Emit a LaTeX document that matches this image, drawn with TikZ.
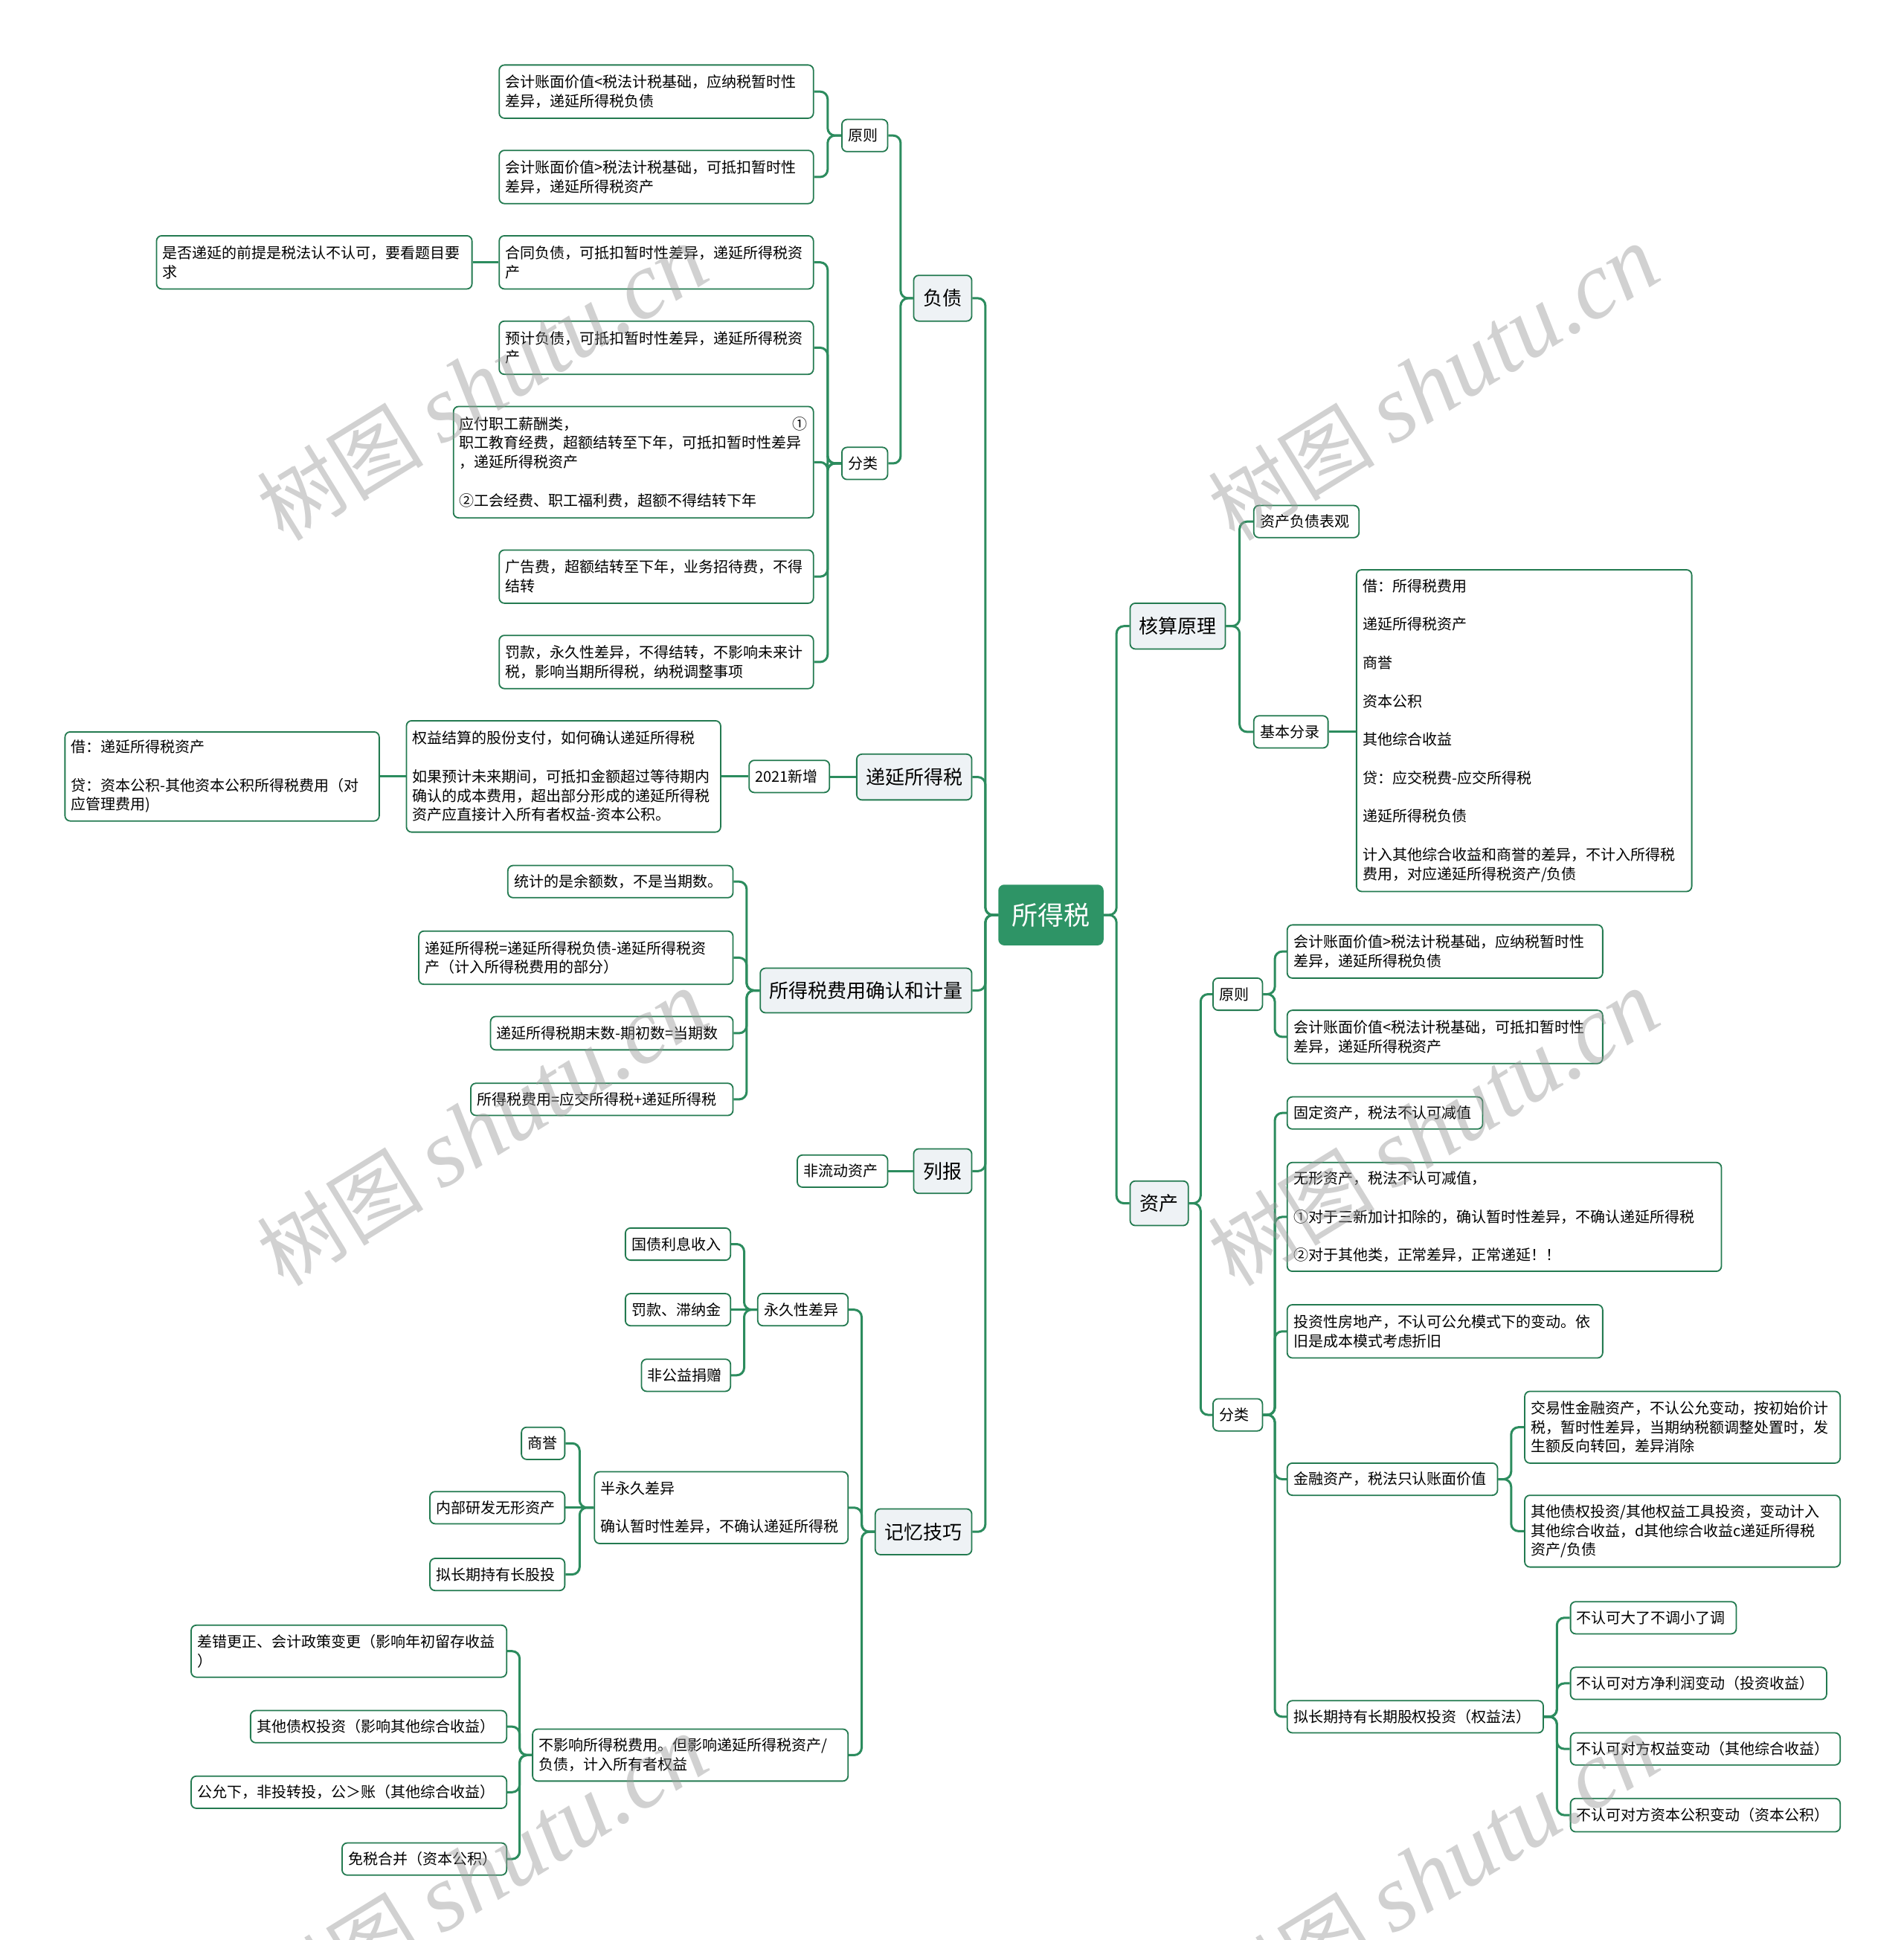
\documentclass[tikz,border=0pt]{standalone}
\usepackage{fontspec}
\setmainfont{Noto Sans CJK SC}
\newfontfamily\wmlatin{Liberation Serif}
\usetikzlibrary{calc}
\newdimen\U \U=1.6636pt
\definecolor{lnk}{HTML}{2C8C5E}
\definecolor{bdr}{HTML}{237A50}
\definecolor{rootf}{HTML}{2E9466}
\definecolor{lonef}{HTML}{EEF2F5}
\newcommand\gap{\\[25.8pt]}
\exhyphenpenalty=10000 \hyphenpenalty=10000
\tikzset{
  base/.style={draw=bdr, line width=1.8pt, rounded corners=7pt, fill=white, inner sep=0pt,
    anchor=north west, align=left, font=\fontsize{20}{25.8}\selectfont},
  lone/.style={base, fill=lonef, align=center, font=\fontsize{26}{30}\selectfont},
  rootn/.style={base, draw=rootf, fill=rootf, text=white, align=center, font=\fontsize{35}{40}\selectfont},
  conn/.style={draw=lnk, line width=3pt, rounded corners=10pt},
  wm/.style={text=black!40, opacity=0.45, rotate=31.6, inner sep=0pt}
}
\newcommand\bx[7]{%
  \pgfmathsetlengthmacro\bxw{(#5-#3)*\U}%
  \pgfmathsetlengthmacro\bxh{(#6-#4)*\U}%
  \pgfmathsetlengthmacro\bxt{(#5-#3-10)*\U}%
  \node[#1, minimum width=\bxw, minimum height=\bxh, text width=\bxt] (#2) at (#3,#4) {#7};}
\newcommand\lc[2]{\draw[conn] (#1.west) -- ($(#1.west)!.5!(#1.west -| #2.east)$) |- (#2.east);}
\newcommand\rc[2]{\draw[conn] (#1.east) -- ($(#1.east)!.5!(#1.east -| #2.west)$) |- (#2.west);}
\newcommand\ls[2]{\draw[conn] (#1.west) -- (#1.west -| #2.east);}
\newcommand\rs[2]{\draw[conn] (#1.east) -- (#1.east -| #2.west);}
\newcommand\wmark[2]{\node[wm] at (#1,#2) {\fontsize{112}{112}\selectfont 树图\ {\wmlatin\fontsize{128}{128}\selectfont\itshape shutu.cn}};}
\begin{document}
\begin{tikzpicture}[x=1.6636pt, y=-1.6636pt]
\useasboundingbox (0,0) rectangle (1539,1568);
\fill[white] (0,0) rectangle (1539,1568);
% root and level 1
\bx{rootn}{root}{807}{715}{891}{763}{所得税}
\bx{lone}{fz}{738}{222}{785}{259}{负债}
\bx{lone}{dy}{692}{609}{785}{646}{递延所得税}
\bx{lone}{qr}{614}{782}{785}{818}{所得税费用确认和计量}
\bx{lone}{lb}{738}{928}{785}{964}{列报}
\bx{lone}{jy}{707}{1219}{785}{1256}{记忆技巧}
\bx{lone}{hs}{913}{487}{990}{524}{核算原理}
\bx{lone}{zc}{913}{954}{960}{990}{资产}
% 负债
\bx{base}{fzyz}{680}{96}{717}{122}{原则}
\bx{base}{fzyza}{403}{52}{657}{95}{会计账面价值<税法计税基础，应纳税暂时性\\差异，递延所得税负债}
\bx{base}{fzyzb}{403}{121}{657}{164}{会计账面价值>税法计税基础，可抵扣暂时性\\差异，递延所得税资产}
\bx{base}{fzfl}{680}{361}{717}{387}{分类}
\bx{base}{fzfla}{403}{190}{657}{233}{合同负债，可抵扣暂时性差异，递延所得税资\\产}
\bx{base}{fzflx}{126}{190}{381}{233}{是否递延的前提是税法认不认可，要看题目要\\求}
\bx{base}{fzflb}{403}{259}{657}{302}{预计负债，可抵扣暂时性差异，递延所得税资\\产}
\bx{base}{fzflc}{366}{328}{657}{418}{应付职工薪酬类，\hfill ①\\职工教育经费，超额结转至下年，可抵扣暂时性差异\\，递延所得税资产\gap ②工会经费、职工福利费，超额不得结转下年}
\bx{base}{fzfld}{403}{444}{657}{487}{广告费，超额结转至下年，业务招待费，不得\\结转}
\bx{base}{fzfle}{403}{513}{657}{556}{罚款，永久性差异，不得结转，不影响未来计\\税，影响当期所得税，纳税调整事项}
% 递延所得税
\bx{base}{dya}{605}{614}{670}{640}{2021新增}
\bx{base}{dyb}{328}{582}{582}{672}{权益结算的股份支付，如何确认递延所得税\gap 如果预计未来期间，可抵扣金额超过等待期内\\确认的成本费用，超出部分形成的递延所得税\\资产应直接计入所有者权益-资本公积。}
\bx{base}{dyc}{52}{591}{306}{663}{借：递延所得税资产\gap 贷：资本公积-其他资本公积所得税费用（对\\应管理费用)}
% 所得税费用确认和计量
\bx{base}{qra}{410}{699}{592}{725}{统计的是余额数，不是当期数。}
\bx{base}{qrb}{338}{752}{592}{795}{递延所得税=递延所得税负债-递延所得税资\\产（计入所得税费用的部分）}
\bx{base}{qrc}{396}{821}{592}{848}{递延所得税期末数-期初数=当期数}
\bx{base}{qrd}{380}{875}{592}{901}{所得税费用=应交所得税+递延所得税}
% 列报
\bx{base}{lba}{644}{933}{717}{959}{非流动资产}
% 记忆技巧
\bx{base}{jya}{612}{1045}{685}{1071}{永久性差异}
\bx{base}{jyaa}{505}{992}{590}{1018}{国债利息收入}
\bx{base}{jyab}{505}{1045}{590}{1071}{罚款、滞纳金}
\bx{base}{jyac}{518}{1098}{590}{1124}{非公益捐赠}
\bx{base}{jyb}{480}{1189}{685}{1247}{半永久差异\gap 确认暂时性差异，不确认递延所得税}
\bx{base}{jyba}{421}{1153}{456}{1179}{商誉}
\bx{base}{jybb}{347}{1205}{456}{1231}{内部研发无形资产}
\bx{base}{jybc}{347}{1259}{456}{1285}{拟长期持有长股投}
\bx{base}{jyc}{430}{1397}{685}{1439}{不影响所得税费用。但影响递延所得税资产/\\负债，计入所有者权益}
\bx{base}{jyca}{154}{1313}{409}{1355}{差错更正、会计政策变更（影响年初留存收益\\）}
\bx{base}{jycb}{202}{1382}{409}{1408}{其他债权投资（影响其他综合收益）}
\bx{base}{jycc}{154}{1435}{409}{1461}{公允下，非投转投，公＞账（其他综合收益）}
\bx{base}{jycd}{276}{1489}{409}{1515}{免税合并（资本公积）}
% 核算原理
\bx{base}{hsa}{1013}{408}{1098}{434}{资产负债表观}
\bx{base}{hsb}{1013}{578}{1073}{604}{基本分录}
\bx{base}{hsbx}{1096}{460}{1367}{720}{借：所得税费用\gap 递延所得税资产\gap 商誉\gap 资本公积\gap 其他综合收益\gap 贷：应交税费-应交所得税\gap 递延所得税负债\gap 计入其他综合收益和商誉的差异，不计入所得税\\费用，对应递延所得税资产/负债}
% 资产
\bx{base}{zcyz}{980}{790}{1020}{816}{原则}
\bx{base}{zcyza}{1040}{747}{1295}{790}{会计账面价值>税法计税基础，应纳税暂时性\\差异，递延所得税负债}
\bx{base}{zcyzb}{1040}{816}{1295}{859}{会计账面价值<税法计税基础，可抵扣暂时性\\差异，递延所得税资产}
\bx{base}{zcfl}{980}{1130}{1020}{1156}{分类}
\bx{base}{zcfla}{1040}{886}{1198}{912}{固定资产，税法不认可减值}
\bx{base}{zcflb}{1040}{939}{1391}{1027}{无形资产，税法不认可减值，\gap ①对于三新加计扣除的，确认暂时性差异，不确认递延所得税\gap ②对于其他类，正常差异，正常递延！！}
\bx{base}{zcflc}{1040}{1054}{1295}{1097}{投资性房地产，不认可公允模式下的变动。依\\旧是成本模式考虑折旧}
\bx{base}{zcfld}{1040}{1182}{1210}{1208}{金融资产，税法只认账面价值}
\bx{base}{zcflda}{1232}{1124}{1487}{1182}{交易性金融资产，不认公允变动，按初始价计\\税，暂时性差异，当期纳税额调整处置时，发\\生额反向转回，差异消除}
\bx{base}{zcfldb}{1232}{1208}{1487}{1266}{其他债权投资/其他权益工具投资，变动计入\\其他综合收益，d其他综合收益c递延所得税\\资产/负债}
\bx{base}{zcfle}{1040}{1374}{1247}{1400}{拟长期持有长期股权投资（权益法）}
\bx{base}{zcflea}{1269}{1294}{1403}{1320}{不认可大了不调小了调}
\bx{base}{zcfleb}{1269}{1347}{1476}{1373}{不认可对方净利润变动（投资收益）}
\bx{base}{zcflec}{1269}{1400}{1487}{1426}{不认可对方权益变动（其他综合收益）}
\bx{base}{zcfled}{1269}{1453}{1487}{1480}{不认可对方资本公积变动（资本公积）}
% connectors: root
\lc{root}{fz} \lc{root}{dy} \lc{root}{qr} \lc{root}{lb} \lc{root}{jy}
\rc{root}{hs} \rc{root}{zc}
% 负债
\lc{fz}{fzyz} \lc{fz}{fzfl}
\lc{fzyz}{fzyza} \lc{fzyz}{fzyzb}
\lc{fzfl}{fzfla} \lc{fzfl}{fzflb} \lc{fzfl}{fzflc} \lc{fzfl}{fzfld} \lc{fzfl}{fzfle}
\ls{fzfla}{fzflx}
% 递延所得税
\ls{dy}{dya} \ls{dya}{dyb} \ls{dyb}{dyc}
% 所得税费用确认和计量
\lc{qr}{qra} \lc{qr}{qrb} \lc{qr}{qrc} \lc{qr}{qrd}
% 列报
\ls{lb}{lba}
% 记忆技巧
\lc{jy}{jya} \lc{jy}{jyb} \lc{jy}{jyc}
\lc{jya}{jyaa} \ls{jya}{jyab} \lc{jya}{jyac}
\lc{jyb}{jyba} \ls{jyb}{jybb} \lc{jyb}{jybc}
\lc{jyc}{jyca} \lc{jyc}{jycb} \lc{jyc}{jycc} \lc{jyc}{jycd}
% 核算原理
\rc{hs}{hsa} \rc{hs}{hsb} \rs{hsb}{hsbx}
% 资产
\rc{zc}{zcyz} \rc{zc}{zcfl}
\rc{zcyz}{zcyza} \rc{zcyz}{zcyzb}
\rc{zcfl}{zcfla} \rc{zcfl}{zcflb} \rc{zcfl}{zcflc} \rc{zcfl}{zcfld} \rc{zcfl}{zcfle}
\rc{zcfld}{zcflda} \rc{zcfld}{zcfldb}
\rc{zcfle}{zcflea} \rc{zcfle}{zcfleb} \rc{zcfle}{zcflec} \rc{zcfle}{zcfled}
% watermarks
\wmark{390}{310} \wmark{1159}{310}
\wmark{390}{912} \wmark{1159}{912}
\wmark{390}{1514} \wmark{1159}{1514}
\end{tikzpicture}
\end{document}
